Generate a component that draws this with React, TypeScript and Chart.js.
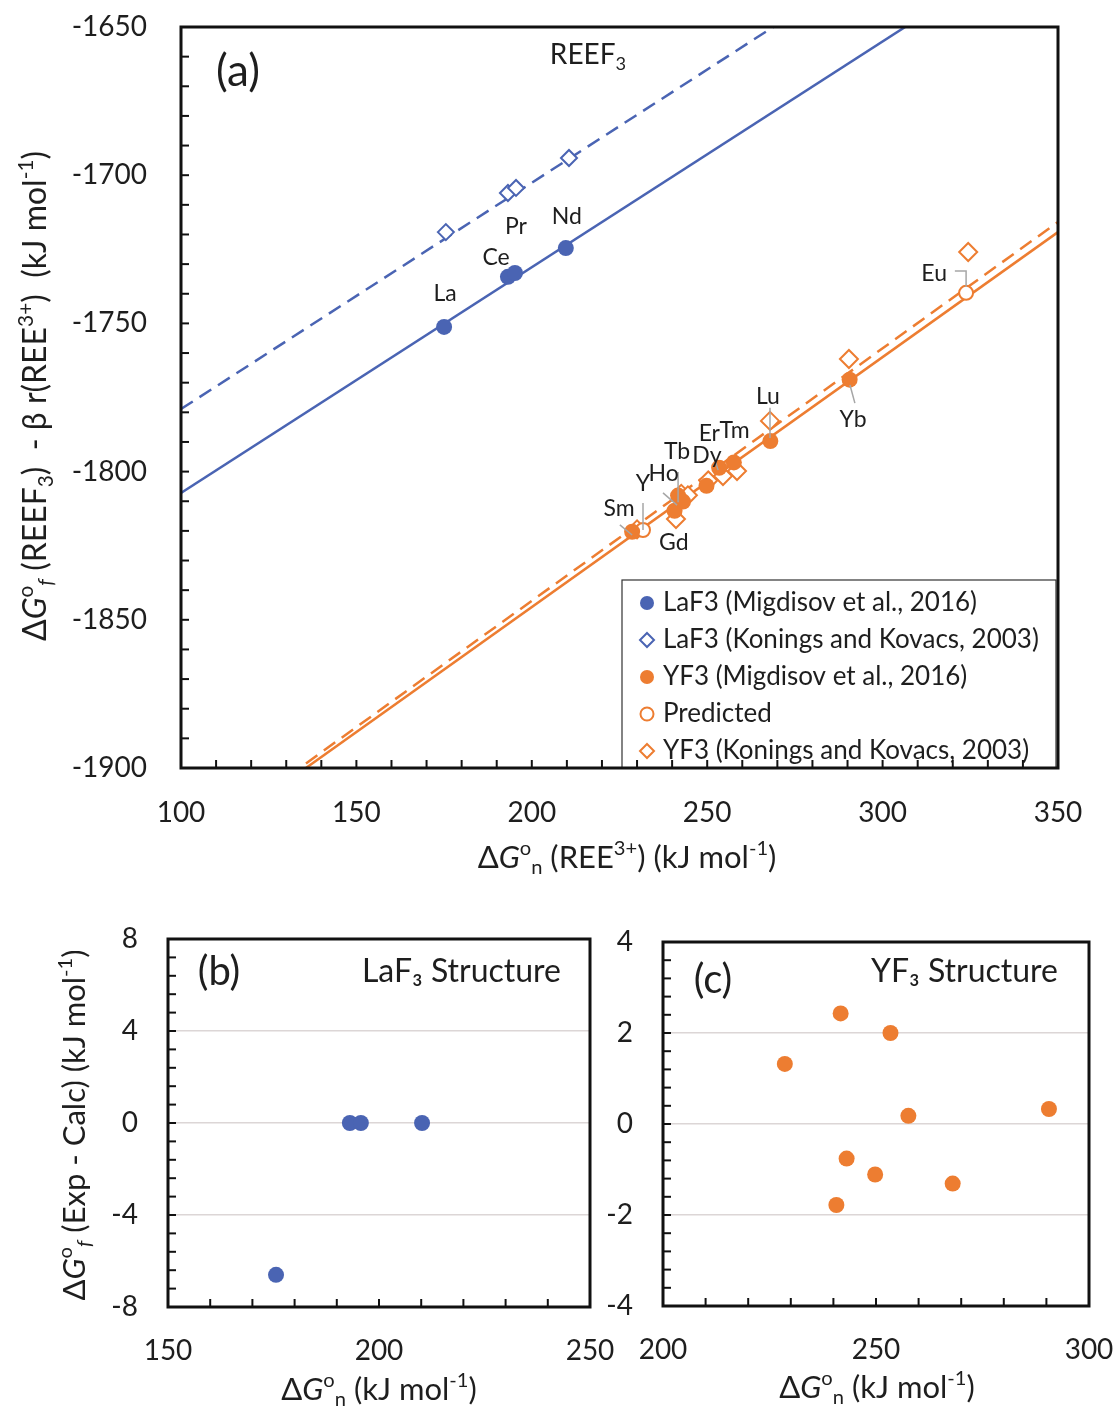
import React, { useEffect, useRef } from 'react';
import { Chart, registerables } from 'chart.js';
Chart.register(...registerables);

const FONT = 'Lato, "Open Sans", "DejaVu Sans", sans-serif';
const BLUE = '#4A64B3';
const ORANGE = '#ED7D31';
const TEXT = '#1E1E1E';

// ---------- Panel (a) data ----------
const laMigX = [175.0, 193.2, 195.2, 209.7];
const laMigY = [-1751.2, -1734.3, -1733.0, -1724.6];
const laKonX = [175.5, 193.2, 195.5, 210.6];
const laKonY = [-1719.2, -1706.0, -1704.3, -1694.2];
const yMigX = [228.6, 240.7, 241.7, 243.1, 249.8, 253.4, 257.6, 268.0, 290.6];
const yMigY = [-1820.3, -1813.2, -1808.1, -1810.1, -1804.8, -1798.7, -1796.9, -1789.7, -1769.0];
const predX = [231.7, 323.8];
const predY = [-1819.7, -1739.7];
const yKonX = [230.0, 241.1, 242.6, 244.5, 250.3, 254.5, 258.5, 267.9, 290.4, 324.4];
const yKonY = [-1819.5, -1816.0, -1807.5, -1808.0, -1803.0, -1801.5, -1799.8, -1782.9, -1762.0, -1725.9];

// fit lines: [LaF3 Migdisov, LaF3 Konings, YF3 Migdisov, YF3 Konings]
const fitSlopes = [0.7616, 0.7636, 0.8433, 0.852];
const fitIntercepts = [-1883.36, -1855.26, -2014.36, -2014.0];

const legendLabels = [
  'LaF3 (Migdisov et al., 2016)',
  'LaF3 (Konings and Kovacs, 2003)',
  'YF3 (Migdisov et al., 2016)',
  'Predicted',
  'YF3 (Konings and Kovacs, 2003)',
];

const elemLabels = ['La', 'Ce', 'Pr', 'Nd', 'Eu', 'Yb', 'Lu', 'Er', 'Tm', 'Tb', 'Dy', 'Y', 'Ho', 'Sm', 'Gd'];
const elemLabelX = [175.3, 189.8, 195.5, 210.0, 314.7, 291.6, 267.3, 250.6, 257.8, 241.4, 249.9, 231.7, 237.6, 224.9, 240.5];
const elemLabelY = [-1739.8, -1727.9, -1717.5, -1713.8, -1733.3, -1782.6, -1774.8, -1787.3, -1786.3, -1793.4, -1794.7, -1804.2, -1800.8, -1812.6, -1824.1];

const leadersA: number[][][] = [
  [[320.6, -1732.3], [323.8, -1732.3], [323.8, -1737.7]],
  [[290.7, -1770.8], [292.1, -1776.9]],
  [[267.9, -1778.5], [267.9, -1788.7]],
  [[225.1, -1818.0], [228.6, -1821.4]],
  [[231.7, -1810.6], [231.7, -1819.7]],
  [[237.4, -1807.2], [241.4, -1811.3]],
  [[241.7, -1800.1], [241.7, -1810.3]],
  [[252.2, -1796.1], [253.1, -1799.5]],
];

// ---------- Panel (b) data ----------
const laResX = [175.6, 193.1, 195.7, 210.2];
const laResY = [-6.6, 0, 0, 0];

// ---------- Panel (c) data ----------
const yResX = [228.6, 240.7, 241.7, 243.1, 249.8, 253.4, 257.6, 268.0, 290.6];
const yResY = [1.32, -1.78, 2.43, -0.76, -1.11, 2.0, 0.18, -1.31, 0.33];

const zip = (xs: number[], ys: number[]) => xs.map((x, i) => ({ x, y: ys[i] }));

type Seg = { t: string; s?: 'i' | 'sub' | 'sup' | 'isub' };

function drawRich(ctx: CanvasRenderingContext2D, segs: Seg[], x: number, y: number, size: number, align: 'left' | 'center' | 'right' = 'center', rotate = false) {
  ctx.save();
  ctx.translate(x, y);
  if (rotate) ctx.rotate(-Math.PI / 2);
  const fontFor = (s?: string) => {
    const small = s === 'sub' || s === 'sup' || s === 'isub';
    const sz = small ? size * 0.65 : size;
    const it = s === 'i' || s === 'isub';
    return `${it ? 'italic ' : ''}${sz}px ${FONT}`;
  };
  const widths: number[] = [];
  let total = 0;
  for (const seg of segs) {
    ctx.font = fontFor(seg.s);
    const w = ctx.measureText(seg.t).width;
    widths.push(w);
    total += w;
  }
  let cx = align === 'center' ? -total / 2 : align === 'right' ? -total : 0;
  ctx.textBaseline = 'middle';
  ctx.textAlign = 'left';
  ctx.fillStyle = TEXT;
  segs.forEach((seg, i) => {
    ctx.font = fontFor(seg.s);
    let dy = 0;
    if (seg.s === 'sub' || seg.s === 'isub') dy = size * 0.32;
    if (seg.s === 'sup') dy = -size * 0.3;
    ctx.fillText(seg.t, cx, dy);
    cx += widths[i];
  });
  ctx.restore();
}

function drawMarker(ctx: CanvasRenderingContext2D, style: string, x: number, y: number, r: number, fill: string | null, stroke: string, lw: number) {
  ctx.beginPath();
  if (style === 'circle') ctx.arc(x, y, r, 0, Math.PI * 2);
  else {
    ctx.moveTo(x, y - r);
    ctx.lineTo(x + r, y);
    ctx.lineTo(x, y + r);
    ctx.lineTo(x - r, y);
    ctx.closePath();
  }
  if (fill) {
    ctx.fillStyle = fill;
    ctx.fill();
  }
  if (lw > 0) {
    ctx.lineWidth = lw;
    ctx.strokeStyle = stroke;
    ctx.stroke();
  }
}

interface Decor {
  xMinor: number;
  yMinor: number;
  texts: { segs: Seg[]; x: number; y: number; size: number; align?: 'left' | 'center' | 'right'; rotate?: boolean }[];
  labels?: { text: string; x: number; y: number }[];
  leaders?: number[][][];
  legend?: { x: number; y: number; w: number; h: number; rowH: number };
}

const makeDecor = (d: Decor) => ({
  id: 'decor',
  afterDraw(chart: any) {
    const { ctx, chartArea: a, scales } = chart;
    const xs = scales.x;
    const ys = scales.y;
    ctx.save();
    // leaders
    ctx.strokeStyle = '#A6A6A6';
    ctx.lineWidth = 1.5;
    (d.leaders || []).forEach((pts) => {
      ctx.beginPath();
      pts.forEach(([vx, vy], i) => {
        const px = xs.getPixelForValue(vx);
        const py = ys.getPixelForValue(vy);
        if (i) ctx.lineTo(px, py);
        else ctx.moveTo(px, py);
      });
      ctx.stroke();
    });
    // labels
    ctx.font = `23px ${FONT}`;
    ctx.fillStyle = TEXT;
    ctx.textAlign = 'center';
    ctx.textBaseline = 'middle';
    (d.labels || []).forEach((l) => {
      ctx.fillText(l.text, xs.getPixelForValue(l.x), ys.getPixelForValue(l.y));
    });
    // legend
    if (d.legend) {
      const L = d.legend;
      ctx.fillStyle = 'white';
      ctx.fillRect(L.x, L.y, L.w, L.h);
      ctx.strokeStyle = '#333';
      ctx.lineWidth = 1.2;
      ctx.strokeRect(L.x, L.y, L.w, L.h);
      const ds = chart.data.datasets.slice(0, 5);
      ds.forEach((dset: any, i: number) => {
        const cy = L.y + 23 + i * L.rowH;
        const cx = L.x + 25;
        const isDiamond = dset.pointStyle === 'rectRot';
        const filled = dset.backgroundColor !== 'white';
        drawMarker(ctx, isDiamond ? 'diamond' : 'circle', cx, cy, isDiamond ? 7 : filled ? 7 : 6.5, filled ? dset.backgroundColor : 'white', dset.borderColor, filled ? 0 : 2);
        ctx.fillStyle = TEXT;
        ctx.font = `26px ${FONT}`;
        ctx.textAlign = 'left';
        ctx.textBaseline = 'middle';
        ctx.fillText(dset.label, L.x + 41, cy);
      });
    }
    // ticks
    ctx.strokeStyle = '#111';
    ctx.lineWidth = 2;
    const tl = 8;
    const nx = Math.round((xs.max - xs.min) / d.xMinor);
    for (let i = 1; i < nx; i++) {
      const px = xs.getPixelForValue(xs.min + i * d.xMinor);
      ctx.beginPath();
      ctx.moveTo(px, a.bottom);
      ctx.lineTo(px, a.bottom - tl);
      ctx.stroke();
    }
    const ny = Math.round((ys.max - ys.min) / d.yMinor);
    for (let i = 1; i < ny; i++) {
      const py = ys.getPixelForValue(ys.min + i * d.yMinor);
      ctx.beginPath();
      ctx.moveTo(a.left, py);
      ctx.lineTo(a.left + tl, py);
      ctx.stroke();
    }
    // box
    ctx.lineWidth = 3;
    ctx.strokeRect(a.left, a.top, a.right - a.left, a.bottom - a.top);
    // texts
    d.texts.forEach((t) => drawRich(ctx, t.segs, t.x, t.y, t.size, t.align || 'center', !!t.rotate));
    ctx.restore();
  },
});

function scalesCfg(xmin: number, xmax: number, xstep: number, ymin: number, ymax: number, ystep: number, yWidth: number, xHeight: number, yPad: number, xPad: number, yGrid: boolean) {
  return {
    x: {
      type: 'linear',
      min: xmin,
      max: xmax,
      border: { display: false },
      grid: { display: false, drawTicks: false },
      ticks: { stepSize: xstep, padding: xPad, color: TEXT, font: { family: FONT, size: 28 }, callback: (v: any) => String(v) },
      afterFit: (s: any) => {
        s.height = xHeight;
        s.paddingLeft = 0;
        s.paddingRight = 0;
      },
    },
    y: {
      type: 'linear',
      min: ymin,
      max: ymax,
      border: { display: false },
      grid: { display: yGrid, drawTicks: false, color: '#DCD6D6', lineWidth: 1.5 },
      ticks: { stepSize: ystep, padding: yPad, color: TEXT, font: { family: FONT, size: 28 }, callback: (v: any) => String(v) },
      afterFit: (s: any) => {
        s.width = yWidth;
        s.paddingTop = 0;
        s.paddingBottom = 0;
      },
    },
  };
}

const ptsDS = (label: string, data: any[], style: string, r: number, bg: string, border: string, bw: number) => ({
  label,
  data,
  pointStyle: style,
  pointRadius: r,
  backgroundColor: bg,
  borderColor: border,
  borderWidth: bw,
  showLine: false,
});

const lineDS = (k: number, color: string, dashed: boolean) => ({
  label: 'fit' + k,
  data: [100, 350].map((x) => ({ x, y: fitIntercepts[k] + fitSlopes[k] * x })),
  showLine: true,
  pointRadius: 0,
  borderColor: color,
  borderWidth: 2.5,
  borderDash: dashed ? [14, 8] : [],
  fill: false,
});

const yTitleA: Seg[] = [
  { t: 'Δ' }, { t: 'G', s: 'i' }, { t: 'o', s: 'sup' }, { t: 'f', s: 'isub' },
  { t: ' (REEF' }, { t: '3', s: 'sub' }, { t: ')  - β r(REE' }, { t: '3+', s: 'sup' },
  { t: ')  (kJ mol' }, { t: '-1', s: 'sup' }, { t: ')' },
];
const xTitleA: Seg[] = [
  { t: 'Δ' }, { t: 'G', s: 'i' }, { t: 'o', s: 'sup' }, { t: 'n', s: 'sub' },
  { t: ' (REE' }, { t: '3+', s: 'sup' }, { t: ') (kJ mol' }, { t: '-1', s: 'sup' }, { t: ')' },
];
const yTitleB: Seg[] = [
  { t: 'Δ' }, { t: 'G', s: 'i' }, { t: 'o', s: 'sup' }, { t: 'f', s: 'isub' },
  { t: ' (Exp - Calc) (kJ mol' }, { t: '-1', s: 'sup' }, { t: ')' },
];
const xTitleBC: Seg[] = [
  { t: 'Δ' }, { t: 'G', s: 'i' }, { t: 'o', s: 'sup' }, { t: 'n', s: 'sub' },
  { t: ' (kJ mol' }, { t: '-1', s: 'sup' }, { t: ')' },
];

function useChart(ref: React.RefObject<HTMLCanvasElement>, make: () => any) {
  useEffect(() => {
    if (!ref.current) return;
    const c = new Chart(ref.current, make());
    return () => c.destroy();
  }, []);
}

const baseOptions = (pad: { left: number; top: number; right: number; bottom: number }, scales: any) => ({
  responsive: false,
  animation: false,
  events: [],
  layout: { padding: pad, autoPadding: false },
  plugins: { legend: { display: false }, tooltip: { enabled: false } },
  scales,
});

export default function App() {
  const refA = useRef<HTMLCanvasElement>(null);
  const refB = useRef<HTMLCanvasElement>(null);
  const refC = useRef<HTMLCanvasElement>(null);

  useChart(refA, () => ({
    type: 'scatter',
    data: {
      datasets: [
        ptsDS(legendLabels[0], zip(laMigX, laMigY), 'circle', 8, BLUE, BLUE, 0),
        ptsDS(legendLabels[1], zip(laKonX, laKonY), 'rectRot', 8, 'white', BLUE, 2),
        ptsDS(legendLabels[2], zip(yMigX, yMigY), 'circle', 8, ORANGE, ORANGE, 0),
        ptsDS(legendLabels[3], zip(predX, predY), 'circle', 7, 'white', ORANGE, 2),
        ptsDS(legendLabels[4], zip(yKonX, yKonY), 'rectRot', 9, 'white', ORANGE, 2),
        lineDS(0, BLUE, false),
        lineDS(1, BLUE, true),
        lineDS(2, ORANGE, false),
        lineDS(3, ORANGE, true),
      ],
    },
    options: baseOptions({ left: 0, top: 27, right: 62, bottom: 0 }, scalesCfg(100, 350, 50, -1900, -1650, 50, 181, 132, 34, 28, false)),
    plugins: [
      makeDecor({
        xMinor: 10,
        yMinor: 10,
        labels: elemLabels.map((t, i) => ({ text: t, x: elemLabelX[i], y: elemLabelY[i] })),
        leaders: leadersA,
        legend: { x: 622, y: 580, w: 434, h: 188, rowH: 37 },
        texts: [
          { segs: [{ t: '(a)' }], x: 238, y: 72, size: 44 },
          { segs: [{ t: 'REEF' }, { t: '3', s: 'sub' }], x: 588, y: 55, size: 28 },
          { segs: yTitleA, x: 36, y: 396, size: 32, rotate: true },
          { segs: xTitleA, x: 627, y: 858, size: 31 },
        ],
      }),
    ],
  }));

  useChart(refB, () => ({
    type: 'scatter',
    data: {
      datasets: [ptsDS('LaF3 residual', zip(laResX, laResY), 'circle', 8, BLUE, BLUE, 0)],
    },
    options: baseOptions({ left: 0, top: 39, right: 50, bottom: 0 }, scalesCfg(150, 250, 50, -8, 8, 4, 168, 105, 30, 27, true)),
    plugins: [
      makeDecor({
        xMinor: 10,
        yMinor: 0.8,
        texts: [
          { segs: [{ t: '(b)' }], x: 219, y: 72, size: 40 },
          { segs: [{ t: 'LaF₃ Structure' }], x: 561, y: 72, size: 32, align: 'right' },
          { segs: yTitleB, x: 75, y: 225, size: 31, rotate: true },
          { segs: xTitleBC, x: 379, y: 490, size: 31 },
        ],
      }),
    ],
  }));

  useChart(refC, () => ({
    type: 'scatter',
    data: {
      datasets: [ptsDS('YF3 residual', zip(yResX, yResY), 'circle', 8, ORANGE, ORANGE, 0)],
    },
    options: baseOptions({ left: 0, top: 42, right: 31, bottom: 0 }, scalesCfg(200, 300, 50, -4, 4, 2, 63, 106, 30, 27, true)),
    plugins: [
      makeDecor({
        xMinor: 10,
        yMinor: 0.4,
        texts: [
          { segs: [{ t: '(c)' }], x: 113, y: 80, size: 40 },
          { segs: [{ t: 'YF₃ Structure' }], x: 458, y: 72, size: 32, align: 'right' },
          { segs: xTitleBC, x: 277, y: 488, size: 31 },
        ],
      }),
    ],
  }));

  return (
    <div style={{ position: 'absolute', left: 0, top: 0, width: 1120, height: 1412, background: 'white' }}>
      <canvas ref={refA} width={1120} height={900} style={{ position: 'absolute', left: 0, top: 0, width: 1120, height: 900 }} />
      <canvas ref={refB} width={640} height={512} style={{ position: 'absolute', left: 0, top: 900, width: 640, height: 512 }} />
      <canvas ref={refC} width={520} height={512} style={{ position: 'absolute', left: 600, top: 900, width: 520, height: 512 }} />
    </div>
  );
}
